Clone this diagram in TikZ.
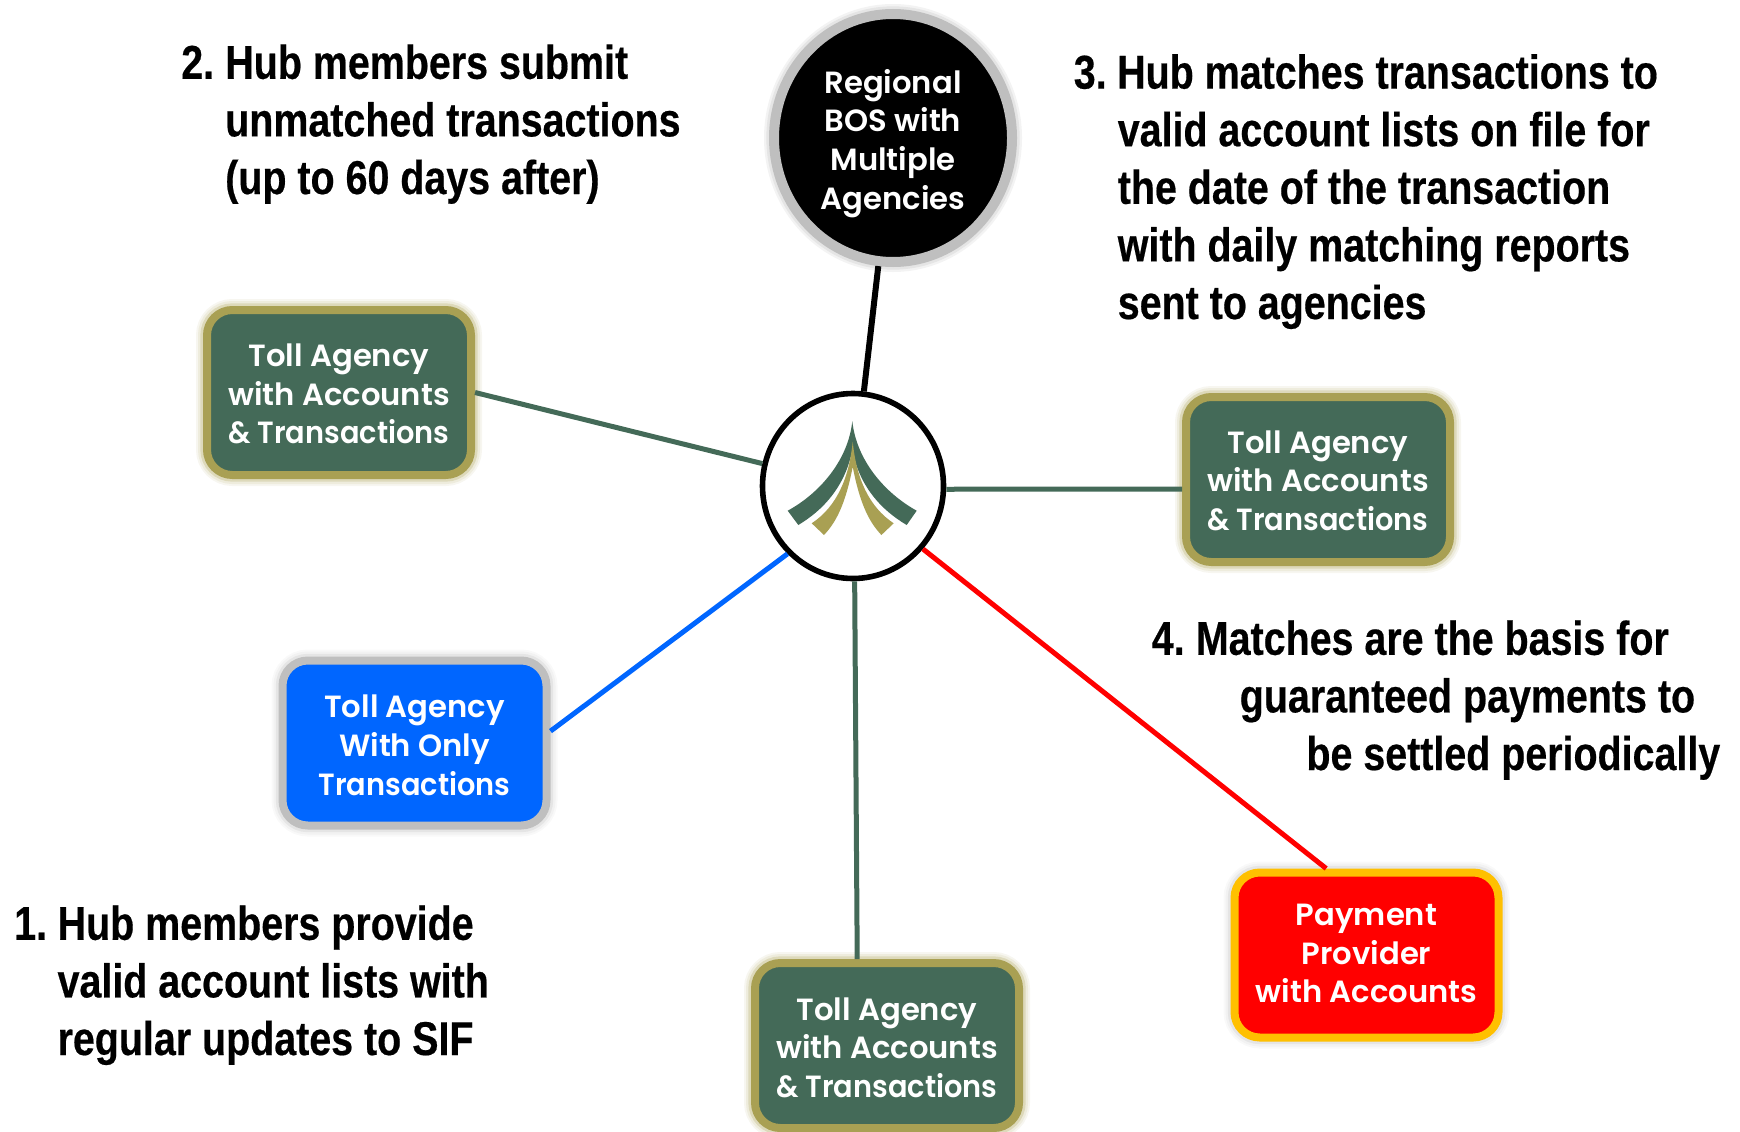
\documentclass[tikz,border=0pt]{standalone}
\usepackage{fontspec}
\usetikzlibrary{shapes.geometric}
\newfontfamily\hdrfont[FakeStretch=0.83,BoldFeatures={FakeBold=0.4}]{Liberation Sans}
\newfontfamily\gothfont[FakeStretch=1.0]{Poppins SemiBold}
\newfontfamily\gothslim[FakeStretch=0.94]{Poppins SemiBold}
\definecolor{hubgreen}{HTML}{446A58}
\definecolor{hubolive}{HTML}{A9A053}
\definecolor{hubgray}{HTML}{BFBFBF}
\definecolor{hubblue}{HTML}{0066FF}
\definecolor{hubred}{HTML}{FF0000}
\definecolor{hubamber}{HTML}{FFC000}
\tikzset{
  glowing/.style={preaction={draw=#1!9,line width=16.5pt},preaction={draw=#1!20,line width=13.5pt},preaction={draw=#1!40,line width=10pt}},
  boxbase/.style={rectangle,rounded corners=19pt,line width=6pt,minimum width=198pt,minimum height=123.75pt,
    inner sep=0pt,text=white,align=center,text depth=0pt,font=\gothfont\fontsize{23pt}{28.9pt}\selectfont},
  greenbox/.style={boxbase,draw=hubolive,fill=hubgreen,glowing=hubolive},
  bluebox/.style={boxbase,draw=hubgray,fill=hubblue,glowing=hubgray},
  redbox/.style={boxbase,draw=hubamber,fill=hubred,glowing=hubgray},
  blackdisc/.style={ellipse,draw=hubgray,fill=black,line width=7.5pt,minimum width=178.5pt,minimum height=186pt,inner sep=0pt,text=white,align=center,
    text depth=0pt,preaction={draw=hubgray!18,line width=15pt},preaction={draw=hubgray!40,line width=11.5pt},font=\gothfont\fontsize{23pt}{28.9pt}\selectfont},
  hubdisc/.style={ellipse,draw=black,fill=white,line width=4.2pt,minimum width=135.75pt,minimum height=138.75pt,inner sep=0pt},
  note/.style={anchor=base west,inner sep=0pt,align=left,text=black,font=\hdrfont\bfseries\fontsize{35.6pt}{43.2pt}\selectfont},
  link/.style={line width=#1},
}
\begin{document}
\begin{tikzpicture}[x=0.75pt,y=-0.75pt]
\path[use as bounding box] (0,0) rectangle (1740,1131);
% nodes
\node[blackdisc,text height=106.5pt] (regional) at (893,138) {Regional\\BOS with\\Multiple\\Agencies};
\node[hubdisc] (hub) at (853,486) {};
\node[greenbox,text height=76.8pt] (tollnw) at (339,392.5) {Toll Agency\\with Accounts\\{\gothslim\& Transactions}};
\node[greenbox,text height=76pt] (tolle) at (1318,479.5) {Toll Agency\\with Accounts\\{\gothslim\& Transactions}};
\node[greenbox,text height=78pt] (tolls) at (887,1045.5) {Toll Agency\\with Accounts\\{\gothslim\& Transactions}};
\node[bluebox,text height=78pt] (tollw) at (414.5,743) {Toll Agency\\With Only\\{\gothslim Transactions}};
\node[redbox,text height=71.6pt] (payer) at (1366.5,955) {Payment\\Provider\\with Accounts};
% connectors
\draw[link=4.5pt,black] (regional) -- (hub);
\draw[link=3.75pt,hubgreen] (tollnw.east) -- (hub);
\draw[link=3.75pt,hubgreen] (tolle.184.6) -- (hub.-2);
\draw[link=3.75pt,hubgreen] (tolls.109) -- (hub.-89);
\draw[link=3.75pt,hubblue] (tollw.5) -- (hub.226);
\draw[link=3.75pt,hubred] (payer.115) -- (hub.-42);
% logo
\fill[hubgreen] (852.3,421) .. controls (848.3,460) and (820,493) .. (787.7,510.7) -- (798.3,525)
  .. controls (823.3,510) and (845,486.7) .. (852.3,450)
  .. controls (859.6,486.7) and (881.3,510) .. (906.7,525) -- (916.7,510.7)
  .. controls (884.6,493) and (856.3,460) .. (852.3,421) -- cycle;
\fill[hubolive] (852.7,441.7) .. controls (849,478.3) and (836.7,506.7) .. (811.7,523.3) -- (824,535)
  .. controls (835,523.3) and (845,506.7) .. (852.7,466.7)
  .. controls (860.4,506.7) and (870.4,523.3) .. (881.4,535) -- (893.7,523.3)
  .. controls (868.7,506.7) and (856.4,478.3) .. (852.7,441.7) -- cycle;
% notes
\node[note] (step1) at (14,1055) {1.\kern-3pt{} Hub members provide\\\hspace*{32.5pt}valid account lists with\\\hspace*{32.5pt}regular updates to SIF};
\node[note] (step2) at (181,194) {2.\kern-2.5pt{} Hub members submit\\\hspace*{33pt}unmatched transactions\\\hspace*{33pt}(up to 60 days after)};
\node[note] (step3) at (1073.5,319) {3.\kern-3pt{} Hub matches transactions to\\\hspace*{33pt}valid account lists on file for\\\hspace*{33pt}the date of the transaction\\\hspace*{33pt}with daily matching reports\\\hspace*{33pt}sent to agencies};
\node[note] (step4) at (1151.5,770) {4.\kern-2.5pt{} Matches are the basis for\\\hspace*{66pt}guaranteed payments to\\\hspace*{116pt}be settled periodically};
\end{tikzpicture}
\end{document}
